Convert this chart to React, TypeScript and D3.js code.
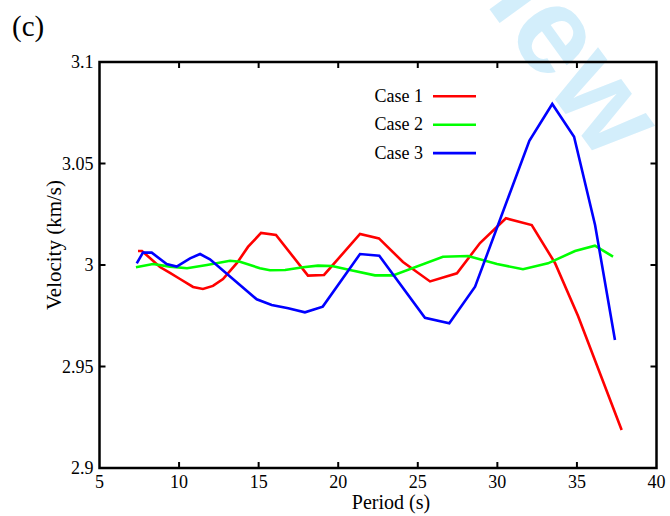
import React from "react";
import * as d3 from "d3";

const xTicks = [5, 10, 15, 20, 25, 30, 35, 40];
const yTicks = [2.9, 2.95, 3.0, 3.05, 3.1];
const yTickLabels = ["2.9", "2.95", "3", "3.05", "3.1"];

const case1Period = [7.42, 7.67, 8.8, 9.43, 10.06, 10.88, 11.5, 12.13, 12.76, 13.64, 14.33, 15.15, 16.09, 18.1, 19.11, 21.37, 22.56, 24.07, 25.77, 27.46, 28.91, 30.54, 32.16, 33.62, 35.07, 37.81];
const case1Vel = [3.0069, 3.0069, 2.999, 2.9961, 2.9931, 2.9892, 2.9882, 2.9897, 2.9931, 3.001, 3.0089, 3.0158, 3.0148, 2.9948, 2.9951, 3.0153, 3.0131, 3.0015, 2.9919, 2.9959, 3.0108, 3.023, 3.0197, 3.001, 2.9749, 2.9187];

const case2Period = [7.29, 8.36, 9.43, 10.5, 11.75, 13.2, 13.83, 15.08, 15.71, 16.66, 17.79, 18.73, 19.61, 20.74, 22.31, 23.44, 26.58, 28.16, 29.98, 31.61, 33.18, 34.88, 36.13, 37.27];
const case2Vel = [2.9989, 3.0005, 2.9992, 2.9984, 3.0, 3.0021, 3.0016, 2.9984, 2.9974, 2.9975, 2.9989, 2.9997, 2.9995, 2.9975, 2.9949, 2.9949, 3.0041, 3.0044, 3.0005, 2.9979, 3.0008, 3.0069, 3.0095, 3.0041];

const case3Period = [7.34, 7.73, 8.28, 9.22, 9.85, 10.69, 11.32, 11.94, 14.88, 15.82, 16.86, 17.91, 19.03, 21.37, 22.58, 25.45, 26.98, 28.6, 32.01, 33.45, 34.82, 36.14, 37.39];
const case3Vel = [3.0008, 3.0061, 3.0061, 3.0005, 2.9992, 3.0033, 3.0054, 3.0028, 2.9831, 2.9803, 2.9787, 2.9767, 2.9795, 3.0054, 3.0046, 2.974, 2.9713, 2.9893, 3.0612, 3.0793, 3.0632, 3.0197, 2.9631];

const seriesNames = ["Case 1", "Case 2", "Case 3"];
const seriesColors = ["#ff0000", "#00ff00", "#0000ff"];

export default function App() {
  const W = 670, H = 516;
  const left = 99.5, right = 656.5, top = 62, bottom = 468;
  const x = d3.scaleLinear().domain([5, 40]).range([left, right]);
  const y = d3.scaleLinear().domain([2.9, 3.1]).range([bottom, top]);
  const line = d3
    .line<[number, number]>()
    .x((d) => x(d[0]))
    .y((d) => y(d[1]));
  const series = [
    d3.zip(case1Period, case1Vel) as [number, number][],
    d3.zip(case2Period, case2Vel) as [number, number][],
    d3.zip(case3Period, case3Vel) as [number, number][],
  ];
  const serif = "'Liberation Serif', 'Times New Roman', serif";
  const tickLen = 6;
  return (
    <div style={{ position: "fixed", left: 0, top: 0, width: W, height: H, background: "#fff" }}>
      <svg width={W} height={H} viewBox={`0 0 ${W} ${H}`} style={{ display: "block" }}>
        <rect width={W} height={H} fill="#fff" />
        <text
          transform="translate(602,164) rotate(54)"
          textAnchor="end"
          fontFamily="'Liberation Sans', Arial, sans-serif"
          fontWeight="bold"
          fontSize={124}
          fill="#d3eefb"
        >
          Review
        </text>
        <text x={12} y={36} fontFamily={serif} fontSize={29} fill="#000">
          (c)
        </text>
        {series.map((s, i) => (
          <path
            key={i}
            d={line(s) || ""}
            fill="none"
            stroke={seriesColors[i]}
            strokeWidth={2.6}
            strokeLinejoin="miter"
          />
        ))}
        <rect x={left} y={top} width={right - left} height={bottom - top} fill="none" stroke="#000" strokeWidth={2.5} />
        {xTicks.slice(1, -1).map((t) => (
          <g key={"xt" + t}>
            <line x1={x(t)} x2={x(t)} y1={bottom} y2={bottom - tickLen} stroke="#000" strokeWidth={2} />
            <line x1={x(t)} x2={x(t)} y1={top} y2={top + tickLen} stroke="#000" strokeWidth={2} />
          </g>
        ))}
        {yTicks.slice(1, -1).map((t) => (
          <g key={"yt" + t}>
            <line x1={left} x2={left + tickLen} y1={y(t)} y2={y(t)} stroke="#000" strokeWidth={2} />
            <line x1={right} x2={right - tickLen} y1={y(t)} y2={y(t)} stroke="#000" strokeWidth={2} />
          </g>
        ))}
        {xTicks.map((t) => (
          <text key={"xl" + t} x={x(t)} y={488} textAnchor="middle" fontFamily={serif} fontSize={18} fill="#000">
            {t}
          </text>
        ))}
        {yTicks.map((t, i) => (
          <text key={"yl" + t} x={93.5} y={y(t) + 6} textAnchor="end" fontFamily={serif} fontSize={18} fill="#000">
            {yTickLabels[i]}
          </text>
        ))}
        <text x={391} y={508.5} textAnchor="middle" fontFamily={serif} fontSize={20} fill="#000">
          Period (s)
        </text>
        <text
          transform={`translate(61,${(top + bottom) / 2 - 20}) rotate(-90)`}
          textAnchor="middle"
          fontFamily={serif}
          fontSize={21}
          fill="#000"
        >
          Velocity (km/s)
        </text>
        {seriesNames.map((n, i) => (
          <g key={n}>
            <text x={423} y={102 + i * 28.4} textAnchor="end" fontFamily={serif} fontSize={18} fill="#000">
              {n}
            </text>
            <line x1={433} x2={476} y1={96.3 + i * 28.4} y2={96.3 + i * 28.4} stroke={seriesColors[i]} strokeWidth={2.6} />
          </g>
        ))}
      </svg>
    </div>
  );
}
